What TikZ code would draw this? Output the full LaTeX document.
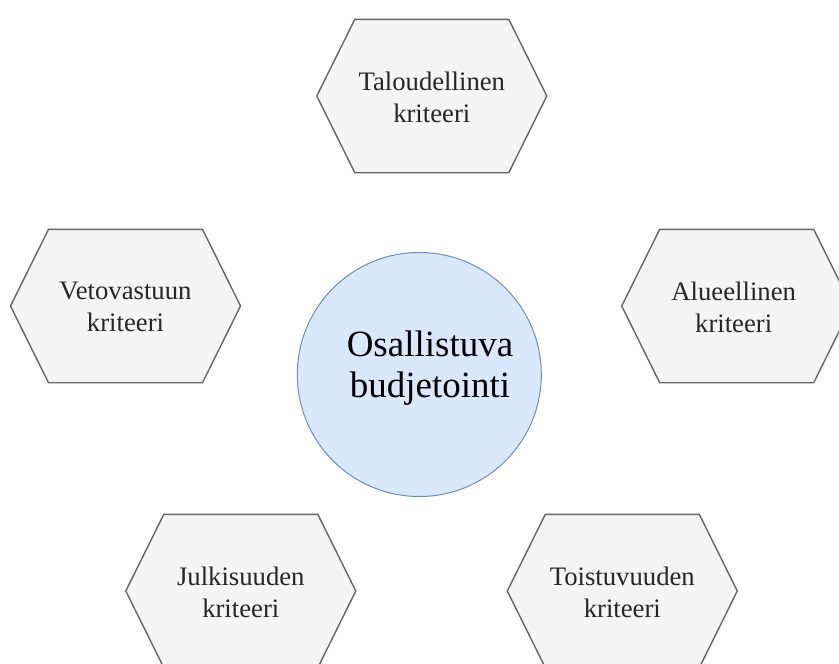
\documentclass[tikz,border=0pt]{standalone}
\usepackage{fontspec}
\setmainfont{Liberation Serif}
\definecolor{hexfill}{HTML}{F5F5F5}
\definecolor{hexdraw}{HTML}{666666}
\definecolor{hextext}{HTML}{262626}
\definecolor{cfill}{HTML}{DAE8FC}
\definecolor{cdraw}{HTML}{6C8EBF}
\tikzset{
  hexbox/.style={draw=hexdraw, fill=hexfill, line width=1.4pt, line join=miter},
  hexlabel/.style={align=center, text=hextext, inner sep=0pt,
    font=\fontsize{26.7}{32}\selectfont},
  circbox/.style={circle, draw=cdraw, fill=cfill, line width=1pt,
    minimum size=244pt, inner sep=0pt},
  biglabel/.style={align=center, text=black, inner sep=0pt,
    font=\fontsize{37}{40.5}\selectfont}
}
\newcommand{\hexnode}[5]{%
  \begin{scope}[shift={(#2,#3)}]
    \draw[hexbox] (-115,0) -- (-77,-76.7) -- (77,-76.7) -- (115,0)
      -- (77,76.7) -- (-77,76.7) -- cycle;
    \node[hexlabel] (#1) at (#5,1) {#4};
  \end{scope}%
}
\begin{document}
\begin{tikzpicture}[x=1pt, y=-1pt]
  \useasboundingbox (0,0) rectangle (839,664);
  \node[circbox] (center) at (419.3,374.5) {};
  \node[biglabel] (centertext) at (430,368) {Osallistuva\\budjetointi};
  \hexnode{talo}{431.8}{96}{Taloudellinen\\kriteeri}{0}
  \hexnode{veto}{125.5}{306}{Vetovastuun\\kriteeri}{0}
  \hexnode{alue}{736.7}{306}{Alueellinen\\kriteeri}{-3}
  \hexnode{julk}{240.8}{591}{Julkisuuden\\kriteeri}{0}
  \hexnode{tois}{622.3}{591}{Toistuvuuden\\kriteeri}{0}
\end{tikzpicture}
\end{document}
